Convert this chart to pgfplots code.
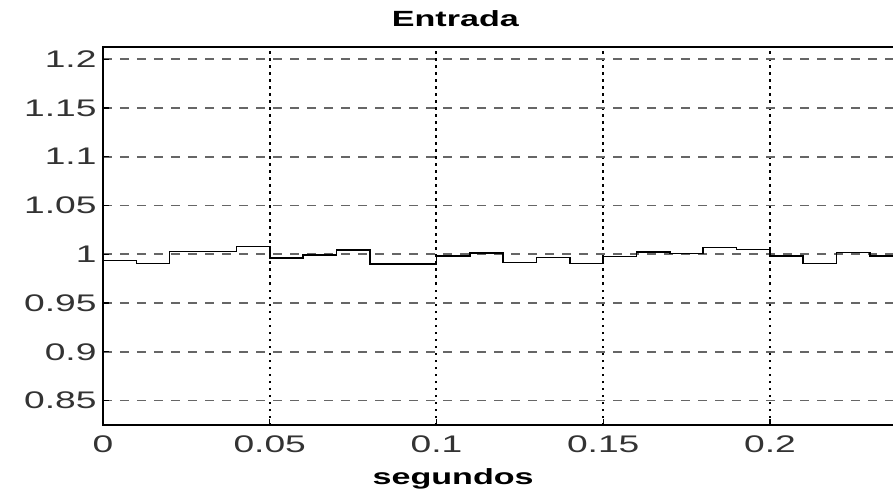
\documentclass[border=0pt]{standalone}
\usepackage{fontspec}
\setmainfont{Liberation Sans}[FakeStretch=1.55]
\usepackage{pgfplots}
\pgfplotsset{compat=1.18}

\begin{document}
\begin{tikzpicture}
\begin{axis}[
  scale only axis,
  width=817bp, height=378bp,
  xmin=0, xmax=0.245,
  ymin=0.825, ymax=1.2125,
  xtick={0,0.05,0.1,0.15,0.2},
  ytick={0.85,0.9,0.95,1,1.05,1.1,1.15,1.2},
  /pgf/number format/assume math mode=true,
  /pgf/number format/fixed,
  /pgf/number format/precision=2,
  tick align=inside,
  major tick length=6bp,
  tick style={black, line width=1.2pt},
  xtick pos=bottom, ytick pos=left,
  ticklabel style={text=black!80, font=\fontsize{24bp}{28bp}\selectfont},
  xticklabel style={yshift=-7bp},
  yticklabel style={xshift=-3bp},
  axis line style={black, line width=1.6pt},
  grid=major,
  x grid style={black, line width=2pt, dash pattern=on 2.5bp off 4.5bp},
  y grid style={black!60, line width=1.6pt, dash pattern=on 9bp off 8bp},
  title={\textbf{Entrada}},
  title style={at={(axis cs:0.1057,1.2125)}, anchor=south, yshift=11bp,
    font=\fontsize{22bp}{25bp}\selectfont},
  xlabel={\textbf{segundos}},
  xlabel style={at={(axis cs:0.105,0.825)}, anchor=north, yshift=-40bp,
    font=\fontsize{22bp}{25bp}\selectfont},
]
% input signal, one sample every 10 ms (zero-order hold)
\addplot[const plot, black, line width=1.6pt] coordinates {
  (0.00,0.9936) (0.01,0.9906) (0.02,1.0030) (0.03,1.0030) (0.04,1.0080)
  (0.05,0.9960) (0.06,0.9995) (0.07,1.0046) (0.08,0.9900) (0.09,0.9900)
  (0.10,0.9985) (0.11,1.0015) (0.12,0.9915) (0.13,0.9966) (0.14,0.9905)
  (0.15,0.9976) (0.16,1.0025) (0.17,1.0007) (0.18,1.0070) (0.19,1.0050)
  (0.20,0.9980) (0.21,0.9905) (0.22,1.0017) (0.23,0.9980) (0.24,0.9980)
  (0.25,0.9980)
};
\end{axis}
\pgfresetboundingbox
\useasboundingbox (-103bp,-67bp) rectangle (790bp,425bp);
\end{tikzpicture}
\end{document}
